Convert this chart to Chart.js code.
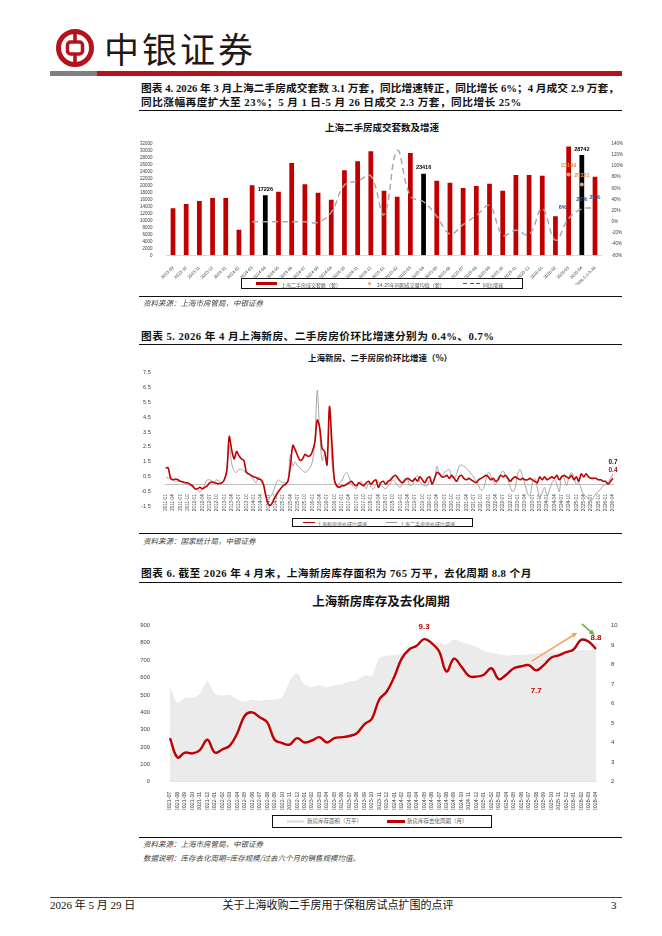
<!DOCTYPE html>
<html lang="zh">
<head>
<meta charset="utf-8">
<title>上海二手房成交、房价与新房库存</title>
<script src="https://cdn.jsdelivr.net/npm/chart.js@4.4.1/dist/chart.umd.min.js"></script>
<style>
  body { margin:0; width:662px; height:936px; position:relative; background:#fff; overflow:hidden;
         font-family:"Liberation Serif","Noto Sans CJK SC",serif; color:#111; }
  .abs { position:absolute; }
  .cap { position:absolute; left:141px; width:478px; font-weight:bold; font-size:10.7px; line-height:14px; white-space:nowrap; letter-spacing:0.45px; }
  .cap .j { text-align:justify; text-align-last:justify; letter-spacing:0; }
  .rule { position:absolute; left:139px; width:483px; height:1px; background:#111; }
  .src { position:absolute; left:143px; font-family:"Noto Sans CJK SC"; font-style:italic; font-size:7.5px; line-height:10px; color:#444; white-space:nowrap; transform:translateY(-50%); }
  .ttl { position:absolute; font-family:"Noto Sans CJK SC"; font-weight:bold; white-space:nowrap; transform:translate(-50%,-50%); color:#111; }
  .lg { position:absolute; border:1px solid #111; box-sizing:border-box; }
  .lt { position:absolute; font-family:"Noto Sans CJK SC"; color:#555; white-space:nowrap; transform:translateY(-50%); line-height:1; }
  .chart { position:absolute; }
  .foot { position:absolute; top:898px; font-size:11px; line-height:14px; white-space:nowrap; }
</style>
</head>
<body>

<!-- header -->
<svg class="abs" style="left:55px;top:28px" width="40" height="40" viewBox="0 0 40 40">
  <circle cx="20" cy="20" r="16.5" fill="none" stroke="#b5121b" stroke-width="5"/>
  <rect x="12.5" y="14" width="15" height="12" rx="3" fill="none" stroke="#b5121b" stroke-width="3.5"/>
  <rect x="18.2" y="2" width="3.6" height="12" fill="#b5121b"/>
  <rect x="18.2" y="26" width="3.6" height="12" fill="#b5121b"/>
</svg>
<div class="abs" style="left:104px;top:29px;font-family:'Noto Sans CJK SC';font-size:35px;line-height:38px;letter-spacing:3px;color:#231815">中银证券</div>
<div class="abs" style="left:50px;top:71px;width:47px;height:5px;background:#7f7f7f"></div>
<div class="abs" style="left:97px;top:71px;width:525px;height:5px;background:#b5121b"></div>

<!-- figure 4 -->
<div class="cap" style="top:81px">
  <div class="j">图表 4. 2026 年 3 月上海二手房成交套数 3.1 万套，同比增速转正，同比增长 6%；4 月成交 2.9 万套，</div>
  <div>同比涨幅再度扩大至 23%；5 月 1 日-5 月 26 日成交 2.3 万套，同比增长 25%</div>
</div>
<div class="rule" style="top:110px"></div>
<div class="ttl" style="left:382px;top:127px;font-size:9.5px">上海二手房成交套数及增速</div>
<div class="chart" style="left:130px;top:135px;width:500px;height:150px"><canvas id="c1" width="500" height="150"></canvas></div>
<div class="lg" style="left:241px;top:278px;width:282px;height:11px"></div>
<div class="abs" style="left:256px;top:282px;width:21px;height:2.5px;background:#c00000"></div>
<div class="lt" style="left:281px;top:283.5px;font-size:5px">上海二手房成交套数（套）</div>
<div class="abs" style="left:367.5px;top:282px;width:3px;height:3px;border-radius:50%;background:#f5a35a"></div>
<div class="lt" style="left:377px;top:283.5px;font-size:5px">24-25年同期成交量均值（套）</div>
<div class="abs" style="left:463px;top:283px;width:17px;height:1px;background:repeating-linear-gradient(90deg,#555 0 4px,transparent 4px 6.5px)"></div>
<div class="lt" style="left:483px;top:283.5px;font-size:5px">同比增速</div>
<div class="rule" style="top:296px"></div>
<div class="src" style="top:303px">资料来源：上海市房管局，中银证券</div>

<!-- figure 5 -->
<div class="cap" style="top:329px"><div>图表 5. 2026 年 4 月上海新房、二手房房价环比增速分别为 0.4%、0.7%</div></div>
<div class="rule" style="top:344px"></div>
<div class="ttl" style="left:380px;top:357px;font-size:8.5px">上海新房、二手房房价环比增速（%）</div>
<div class="chart" style="left:135px;top:362px;width:495px;height:155px"><canvas id="c2" width="495" height="155"></canvas></div>
<div class="lg" style="left:292px;top:518px;width:181px;height:9px"></div>
<div class="abs" style="left:303px;top:521.8px;width:12px;height:1.5px;background:#c00000"></div>
<div class="lt" style="left:317px;top:522.5px;font-size:5px">上海新房房价环比增速</div>
<div class="abs" style="left:386px;top:522px;width:11px;height:1px;background:#999"></div>
<div class="lt" style="left:400px;top:522.5px;font-size:5px">上海二手房房价环比增速</div>
<div class="rule" style="top:533px"></div>
<div class="src" style="top:541px">资料来源：国家统计局，中银证券</div>

<!-- figure 6 -->
<div class="cap" style="top:566px"><div>图表 6. 截至 2026 年 4 月末，上海新房库存面积为 765 万平，去化周期 8.8 个月</div></div>
<div class="rule" style="top:582px"></div>
<div class="ttl" style="left:381px;top:600px;font-size:12.5px">上海新房库存及去化周期</div>
<div class="chart" style="left:140px;top:610px;width:490px;height:200px"><canvas id="c3" width="490" height="200"></canvas></div>
<div class="lg" style="left:272px;top:815px;width:220px;height:13px"></div>
<div class="abs" style="left:287px;top:820px;width:17px;height:3px;background:#e3e3e3"></div>
<div class="lt" style="left:307px;top:821.5px;font-size:5.5px">新房库存面积（万平）</div>
<div class="abs" style="left:387px;top:820.3px;width:18px;height:2.5px;background:#c00000"></div>
<div class="lt" style="left:407px;top:821.5px;font-size:5.5px">新房库存去化周期（月）</div>
<div class="rule" style="top:837px"></div>
<div class="src" style="top:844px">资料来源：上海市房管局，中银证券</div>
<div class="src" style="top:858px">数据说明：库存去化周期=库存规模/过去六个月的销售规模均值。</div>

<!-- footer -->
<div class="abs" style="left:50px;top:896.5px;width:572px;height:1.5px;background:#8c1c24"></div>
<div class="foot" style="left:50px">2026 年 5 月 29 日</div>
<div class="foot" style="left:338px;transform:translateX(-50%)">关于上海收购二手房用于保租房试点扩围的点评</div>
<div class="foot" style="left:611px">3</div>

<script>
Chart.defaults.font.family = '"Liberation Sans", Arial, sans-serif';
Chart.defaults.color = '#404040';
Chart.defaults.animation = false;

// ---- figure 4: second-hand transactions ----
const salesMonths = ['2023-09','2023-10','2023-11','2023-12','2024-01','2024-02','2024-03','2024-04',
  '2024-05','2024-06','2024-07','2024-08','2024-09','2024-10','2024-11','2024-12','2025-01','2025-02',
  '2025-03','2025-04','2025-05','2025-06','2025-07','2025-08','2025-09','2025-10','2025-11','2025-12',
  '2026-01','2026-02','2026-03','2026-04','2026.5.1-5.26'];
const salesVolume = [13500,14700,15600,16400,16400,7300,20100,17226,18200,26500,20400,17900,15900,24400,
  27000,29800,18500,16800,29300,23416,21400,20800,19300,19900,20500,18500,23000,23000,22800,11200,31200,28742,22500];
const salesYoY = [null,null,null,null,null,null,0,0,0,0,0,-1,17,66,73,82,13,128,46,36,10,-22,-5,11,29,
  -24,-15,-23,24,-33,6,23,25];
const avg2425 = [null,null,null,null,null,null,null,null,null,null,null,null,null,null,null,null,null,null,
  null,null,null,null,null,null,null,null,null,null,null,null,23199,20321,null];

// ---- figure 5: price month-on-month (%) ----
function monthRange(y0, m0, y1, m1) {
  const out = [];
  for (let y = y0, m = m0; y < y1 || (y === y1 && m <= m1);) {
    out.push(y + '-' + String(m).padStart(2, '0'));
    if (++m > 12) { m = 1; y++; }
  }
  return out;
}
const priceMonths = monthRange(2011, 1, 2026, 4);
const newHomeMoM = [
  1.1,1.1,0.4,0.3,0.35,0.3,0.2,0.15,0.1,0.1,0.0,-0.1,
  -0.3,-0.3,-0.2,-0.3,-0.2,-0.1,0.1,0.15,0.1,0.05,0.05,0.1,
  0.3,0.9,3.2,2.3,1.7,2.2,1.9,1.7,1.6,0.8,0.7,0.6,
  0.5,0.45,0.35,0.3,0.0,-0.8,-1.35,-1.4,-1.1,-0.8,-0.5,-0.3,
  -0.1,0.0,0.2,1.2,2.6,2.3,1.9,1.6,1.7,2.0,1.9,1.9,
  2.2,2.8,4.3,3.8,2.4,2.2,1.3,5.2,2.8,0.3,-0.1,-0.2,
  -0.1,-0.1,0.0,0.1,0.2,0.0,-0.1,0.1,0.0,-0.1,0.1,0.2,
  0.0,0.2,0.3,-0.2,0.1,0.2,0.0,0.2,0.3,0.5,0.6,0.4,
  0.2,0.1,0.3,0.4,0.3,0.2,0.4,0.2,0.5,0.3,0.1,0.4,
  0.5,0.0,0.4,0.8,0.7,0.5,0.5,0.6,0.4,0.6,0.4,0.2,
  0.5,0.6,0.4,0.3,0.4,0.3,0.2,0.1,0.3,0.4,0.5,0.6,
  0.5,0.3,0.4,0.2,0.3,0.6,0.5,0.6,0.4,0.2,0.4,0.5,
  0.4,0.3,0.4,0.3,0.3,0.4,0.3,0.2,0.1,0.5,0.3,0.5,
  0.3,0.4,0.5,0.4,0.6,0.3,0.5,0.6,0.5,0.4,0.6,0.3,
  0.5,0.2,0.7,0.5,0.7,0.5,0.4,0.4,0.4,0.3,0.3,0.2,
  0.2,0.0,0.2,0.4];
const usedHomeMoM = [
  0.5,0.4,0.5,0.3,0.2,0.2,0.2,0.2,0.1,0.0,-0.1,-0.2,
  -0.3,-0.4,-0.5,-0.3,0.0,0.3,0.3,0.2,0.2,0.3,0.2,0.1,
  0.4,1.0,2.6,1.4,0.9,0.8,1.0,1.0,0.9,0.8,0.7,0.5,
  0.3,0.1,0.5,0.2,-0.1,-0.8,-0.9,-0.8,-0.5,0.0,0.3,0.2,
  0.1,0.1,0.2,2.0,1.2,1.5,1.2,1.1,0.9,0.8,0.9,1.1,
  1.5,2.8,6.3,3.5,1.6,2.0,1.6,5.0,1.5,0.3,-0.2,0.1,
  0.2,0.6,0.8,0.5,0.0,-0.2,-0.3,0.1,0.2,0.0,-0.3,0.1,
  -0.2,-0.3,0.0,0.2,0.0,-0.2,-0.3,-0.1,0.1,0.3,0.1,-0.1,
  -0.2,0.2,0.4,0.3,-0.1,0.0,0.4,0.6,0.2,0.0,-0.1,-0.1,
  0.3,0.1,0.4,1.2,0.7,0.5,0.8,0.9,1.0,0.5,0.4,0.7,
  1.2,1.3,1.2,1.1,0.9,0.7,0.5,0.2,-0.1,-0.4,-0.3,0.3,
  0.8,0.6,0.2,0.0,0.4,0.7,0.9,0.6,0.3,-0.2,-0.5,-0.2,
  0.7,1.0,0.5,0.0,-0.6,-0.8,0.1,0.4,-0.2,-0.9,-0.6,-0.2,
  -0.8,-0.4,0.1,0.3,0.0,-0.5,0.6,0.4,-0.1,0.5,0.8,0.5,
  0.0,0.1,-0.3,-0.7,-0.8,-1.0,-1.1,-0.9,-0.6,-0.5,-0.3,-0.1,
  0.0,0.1,0.4,0.7];
const priceTicks = [-1.5,-0.5,0.5,1.5,2.5,3.5,4.5,5.5,6.5,7.5];

// ---- figure 6: new-home inventory ----
const stockMonths = monthRange(2021, 7, 2026, 4);
const stockArea = [544,456,484,484,507,577,507,497,499,475,462,473,466,473,471,488,577,624,559,544,
  555,544,555,562,577,585,611,611,711,726,730,735,745,773,791,800,800,791,819,804,
  791,778,754,741,735,726,732,730,734,739,745,745,749,752,756,758,758,765];
const destockCycle = [4.23,3.24,3.49,3.45,3.62,4.15,3.49,3.65,3.85,4.48,5.38,5.55,5.30,5.05,4.15,3.98,3.90,4.23,4.01,4.11,
  4.28,4.01,4.23,4.28,4.34,4.48,4.94,5.22,6.21,6.62,7.36,8.30,8.77,8.96,9.3,9.1,8.68,7.64,8.30,7.89,
  7.41,7.38,7.48,7.81,7.25,7.48,7.81,7.91,7.97,7.7,7.97,8.35,8.47,8.63,8.77,9.26,9.18,8.8];
// trend arrows in data units: [month index, months of supply]
const trendArrows = [
  { from: [48.4, 8.17], to: [54.5, 9.63], color: '#f4a460' },
  { from: [55.1, 10.08], to: [56.8, 9.51], color: '#70ad47' }
];

// text tags drawn at data points
const tagPlugin = {
  id: 'tags',
  afterDatasetsDraw(chart, args, opts) {
    const ctx = chart.ctx;
    (opts.items || []).forEach(t => {
      const el = chart.getDatasetMeta(t.ds).data[t.i];
      if (!el) return;
      ctx.save();
      ctx.font = `bold ${t.size}px "Liberation Sans", Arial, sans-serif`;
      ctx.fillStyle = t.color;
      ctx.textAlign = 'center';
      ctx.textBaseline = 'middle';
      ctx.fillText(t.text, el.x + (t.dx || 0), el.y + (t.dy || 0));
      ctx.restore();
    });
  }
};

const arrowPlugin = {
  id: 'arrows',
  afterDatasetsDraw(chart, args, opts) {
    const ctx = chart.ctx, sx = chart.scales.x, sy = chart.scales.y1;
    (opts.list || []).forEach(a => {
      const x0 = sx.getPixelForValue(a.from[0]), y0 = sy.getPixelForValue(a.from[1]);
      const x1 = sx.getPixelForValue(a.to[0]), y1 = sy.getPixelForValue(a.to[1]);
      const ang = Math.atan2(y1 - y0, x1 - x0), head = 6;
      ctx.save();
      ctx.strokeStyle = a.color; ctx.fillStyle = a.color; ctx.lineWidth = 1.5;
      ctx.beginPath();
      ctx.moveTo(x0, y0);
      ctx.lineTo(x1 - Math.cos(ang) * head * 0.8, y1 - Math.sin(ang) * head * 0.8);
      ctx.stroke();
      ctx.beginPath();
      ctx.moveTo(x1, y1);
      ctx.lineTo(x1 - head * Math.cos(ang - 0.45), y1 - head * Math.sin(ang - 0.45));
      ctx.lineTo(x1 - head * Math.cos(ang + 0.45), y1 - head * Math.sin(ang + 0.45));
      ctx.closePath();
      ctx.fill();
      ctx.restore();
    });
  }
};

// figure 4 tags
const c1Tags = [];
salesMonths.forEach((m, i) => {
  if (m.endsWith('-04')) c1Tags.push({ ds: 2, i, text: String(salesVolume[i]), color: '#000', dy: -6, size: 5.5 });
  if (avg2425[i] !== null) c1Tags.push({ ds: 0, i, text: String(avg2425[i]), color: '#f08a3c', dy: -9, size: 5.5 });
});
[30, 31, 32].forEach((i, k) => c1Tags.push({ ds: 1, i, text: salesYoY[i] + '%', color: '#2f4b8a',
  dx: k === 0 ? -6 : 0, dy: k === 0 ? -11 : -10, size: 5.5 }));

new Chart(document.getElementById('c1'), {
  type: 'bar',
  data: {
    labels: salesMonths,
    datasets: [
      { type: 'line', data: avg2425, yAxisID: 'y', showLine: false, pointRadius: 2,
        pointBackgroundColor: '#f5a35a', pointBorderWidth: 0, order: 0 },
      { type: 'line', data: salesYoY, yAxisID: 'y1', borderColor: '#a9a9a9', borderWidth: 1.5,
        borderDash: [6, 4], pointRadius: 0, tension: 0.4, order: 1 },
      { type: 'bar', data: salesVolume, yAxisID: 'y',
        backgroundColor: salesMonths.map(m => m.endsWith('-04') ? '#000' : '#c00000'),
        barPercentage: 0.36, categoryPercentage: 1, order: 2 }
    ]
  },
  options: {
    responsive: false,
    animation: false,
    layout: { padding: { top: 8.3, left: 0, right: 0, bottom: 0 } },
    plugins: { legend: { display: false }, tooltip: { enabled: false }, tags: { items: c1Tags } },
    scales: {
      x: {
        grid: { display: false }, border: { color: '#d9d9d9' },
        ticks: { font: { size: 4.3 }, minRotation: 45, maxRotation: 45, autoSkip: false, padding: 2 },
        afterFit: s => { s.height = 29.7; }
      },
      y: {
        position: 'left', min: 0, max: 32000, grid: { display: false }, border: { display: false },
        ticks: { stepSize: 2000, autoSkip: false, font: { size: 4.5 }, padding: 6, callback: v => String(v) },
        afterFit: s => { s.width = 36.4; }
      },
      y1: {
        position: 'right', min: -60, max: 140, grid: { display: false }, border: { display: false },
        ticks: { stepSize: 20, autoSkip: false, font: { size: 4.5 }, padding: 2, callback: v => v + '%' },
        afterFit: s => { s.width = 28.4; }
      }
    }
  },
  plugins: [tagPlugin]
});

// figure 5
const last = priceMonths.length - 1;
new Chart(document.getElementById('c2'), {
  type: 'line',
  data: {
    labels: priceMonths,
    datasets: [
      { data: newHomeMoM, borderColor: '#c00000', borderWidth: 1.6, pointRadius: 0, tension: 0.3, order: 0 },
      { data: usedHomeMoM, borderColor: '#a6a6a6', borderWidth: 1, pointRadius: 0, tension: 0.3, order: 1 }
    ]
  },
  options: {
    responsive: false,
    animation: false,
    layout: { padding: { top: 8, bottom: 7, right: 17, left: 0 } },
    plugins: {
      legend: { display: false }, tooltip: { enabled: false },
      tags: { items: [
        { ds: 1, i: last, text: usedHomeMoM[last].toFixed(1), color: '#111', dy: -12, size: 6.5 },
        { ds: 0, i: last, text: newHomeMoM[last].toFixed(1), color: '#c00000', dy: -8, size: 6.5 }
      ] }
    },
    scales: {
      x: {
        position: { y: 0 }, grid: { display: false }, border: { color: '#bfbfbf' },
        ticks: {
          autoSkip: false, minRotation: 90, maxRotation: 90, font: { size: 4.6 }, padding: 2,
          callback: (v, i) => ['01', '04', '07', '10'].includes(priceMonths[i].slice(5)) ? priceMonths[i] : ''
        },
        afterFit: s => { s.height = 0; }
      },
      y: {
        min: -1.5, max: 7.5, grid: { display: false }, border: { display: false },
        afterBuildTicks: s => { s.ticks = priceTicks.map(v => ({ value: v })); },
        ticks: { font: { size: 5.5 }, padding: 7, callback: v => String(v) },
        afterFit: s => { s.width = 30.7; }
      }
    }
  },
  plugins: [tagPlugin]
});

// figure 6
new Chart(document.getElementById('c3'), {
  type: 'line',
  data: {
    labels: stockMonths,
    datasets: [
      { data: destockCycle, yAxisID: 'y1', borderColor: '#c00000', borderWidth: 2.4, pointRadius: 0,
        tension: 0.4, order: 0 },
      { data: stockArea, yAxisID: 'y', fill: 'origin', backgroundColor: '#ebebeb', borderWidth: 0,
        pointRadius: 0, tension: 0.3, order: 1 }
    ]
  },
  options: {
    responsive: false,
    animation: false,
    layout: { padding: { top: 10.7, left: 0, right: 0, bottom: 0 } },
    plugins: {
      legend: { display: false }, tooltip: { enabled: false },
      tags: { items: [
        { ds: 0, i: 34, text: destockCycle[34].toFixed(1), color: '#c00000', dy: -12, size: 8 },
        { ds: 0, i: 49, text: destockCycle[49].toFixed(1), color: '#c00000', dy: 20, size: 8 },
        { ds: 0, i: 57, text: destockCycle[57].toFixed(1), color: '#c00000', dy: -11, size: 8 }
      ] },
      arrows: { list: trendArrows }
    },
    scales: {
      x: {
        grid: { display: false }, border: { color: '#e0e0e0' },
        ticks: { autoSkip: false, minRotation: 90, maxRotation: 90, font: { size: 5.3 }, padding: 2 },
        afterFit: s => { s.height = 28.3; }
      },
      y: {
        position: 'left', min: 0, max: 900, grid: { display: false }, border: { display: false },
        ticks: { stepSize: 100, font: { size: 5.8 }, padding: 12 },
        afterFit: s => { s.width = 30; }
      },
      y1: {
        position: 'right', min: 2, max: 10, grid: { display: false }, border: { display: false },
        ticks: { stepSize: 1, font: { size: 6 }, padding: 7 },
        afterFit: s => { s.width = 34; }
      }
    }
  },
  plugins: [tagPlugin, arrowPlugin]
});
</script>
</body>
</html>
